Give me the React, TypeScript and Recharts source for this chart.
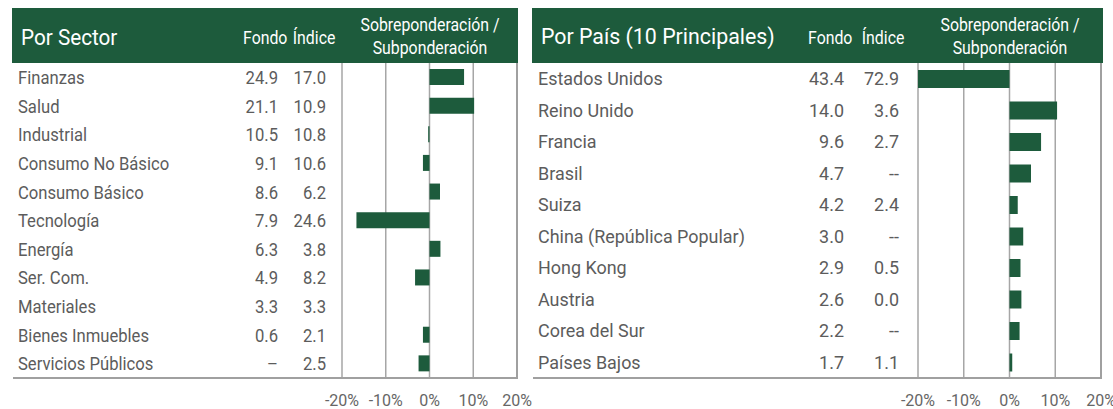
import React from 'react'
import { BarChart, Bar, XAxis, YAxis, CartesianGrid } from 'recharts'

const GREEN = '#1d5b3c'
const TEXT = '#5c5c5c'
const GRID = '#a6a6a6'

const sectorNames = [
  'Finanzas', 'Salud', 'Industrial', 'Consumo No Básico', 'Consumo Básico', 'Tecnología',
  'Energía', 'Ser. Com.', 'Materiales', 'Bienes Inmuebles', 'Servicios Públicos',
]
const sectorFund = ['24.9', '21.1', '10.5', '9.1', '8.6', '7.9', '6.3', '4.9', '3.3', '0.6', '–']
const sectorIndex = ['17.0', '10.9', '10.8', '10.6', '6.2', '24.6', '3.8', '8.2', '3.3', '2.1', '2.5']
const sectorActive = [7.9, 10.2, -0.3, -1.5, 2.4, -16.7, 2.5, -3.3, 0.0, -1.5, -2.5]

const countryNames = [
  'Estados Unidos', 'Reino Unido', 'Francia', 'Brasil', 'Suiza', 'China (República Popular)',
  'Hong Kong', 'Austria', 'Corea del Sur', 'Países Bajos',
]
const countryFund = ['43.4', '14.0', '9.6', '4.7', '4.2', '3.0', '2.9', '2.6', '2.2', '1.7']
const countryIndex = ['72.9', '3.6', '2.7', '--', '2.4', '--', '0.5', '0.0', '--', '1.1']
const countryActive = [-29.5, 10.4, 6.9, 4.7, 1.8, 3.0, 2.4, 2.6, 2.2, 0.6]

const axisTicks = [-20, -10, 0, 10, 20]

type Row = { name: string; fund: string; index: string; active: number }

function buildRows(names: string[], fund: string[], index: string[], active: number[]): Row[] {
  return names.map((name, i) => ({ name, fund: fund[i], index: index[i], active: active[i] }))
}

const sectorRows = buildRows(sectorNames, sectorFund, sectorIndex, sectorActive)
const countryRows = buildRows(countryNames, countryFund, countryIndex, countryActive)

// narrow text, the source uses a condensed face we don't have
function SvgText({ x, y, anchor, size, sx, fill, children }: any) {
  return (
    <g transform={`translate(${x},${y}) scale(${sx},1)`}>
      <text x={0} y={0} dy="0.36em" textAnchor={anchor} fontSize={size} fill={fill} fontFamily="Roboto">
        {children}
      </text>
    </g>
  )
}

function HeadText({ x, cy, size, sx, align, children }: any) {
  const origin = align === 'right' ? 'right' : align === 'center' ? 'center' : 'left'
  const pos: any = align === 'right' ? { right: 1113 - x } : align === 'center' ? { left: x - 100, width: 200 } : { left: x }
  return (
    <div
      style={{
        position: 'absolute',
        ...pos,
        top: cy - size * 0.49,
        fontSize: size,
        lineHeight: 1,
        color: '#fff',
        textAlign: align,
        whiteSpace: 'nowrap',
        transform: `scaleX(${sx})`,
        transformOrigin: `${origin} center`,
      }}
    >
      {children}
    </div>
  )
}

interface PanelProps {
  title: string
  rows: Row[]
  left: number
  width: number
  headerLeft: number
  headerRight: number
  titleSize: number
  titleSx: number
  rowSize: number
  rowSx: number
  nameX: number
  fundX: number
  indexX: number
  fundHeadX: number
  indexHeadX: number
  plotLeft: number
  plotRight: number
  barSize: number
}

function Panel(p: PanelProps) {
  const plotTop = 63
  const plotBottom = 378
  const chartHeight = 409

  const RowTick = (props: any) => {
    const { y, payload } = props
    const row = p.rows.find((r) => r.name === payload.value)
    if (!row) return null
    return (
      <g>
        <SvgText x={p.nameX - p.left} y={y} anchor="start" size={p.rowSize} sx={p.rowSx} fill={TEXT}>{row.name}</SvgText>
        <SvgText x={p.fundX - p.left} y={y} anchor="end" size={p.rowSize} sx={p.rowSx} fill={TEXT}>{row.fund}</SvgText>
        <SvgText x={p.indexX - p.left} y={y} anchor="end" size={p.rowSize} sx={p.rowSx} fill={TEXT}>{row.index}</SvgText>
      </g>
    )
  }

  const AxisTick = (props: any) => {
    const { x, payload } = props
    return (
      <text x={x} y={plotBottom + 28} textAnchor="middle" fill="#666" fontSize={16} fontFamily="Roboto">
        {`${payload.value}%`}
      </text>
    )
  }

  const plotCenter = (p.plotLeft + p.plotRight) / 2

  return (
    <>
      <div
        style={{
          position: 'absolute',
          left: p.headerLeft,
          top: 8,
          width: p.headerRight - p.headerLeft,
          height: 55,
          background: GREEN,
        }}
      />
      <HeadText x={p.nameX + 3} cy={37} size={p.titleSize} sx={p.titleSx} align="left">{p.title}</HeadText>
      <HeadText x={p.fundHeadX} cy={38} size={18} sx={0.88} align="right">Fondo</HeadText>
      <HeadText x={p.indexHeadX} cy={38} size={18} sx={0.88} align="right">Índice</HeadText>
      <HeadText x={plotCenter} cy={25} size={18} sx={0.88} align="center">Sobreponderación /</HeadText>
      <HeadText x={plotCenter} cy={48} size={18} sx={0.88} align="center">Subponderación</HeadText>
      <div style={{ position: 'absolute', left: p.left }}>
        <BarChart
          width={p.width}
          height={chartHeight}
          data={p.rows}
          layout="vertical"
          margin={{ top: plotTop, right: p.left + p.width - p.plotRight, bottom: 0, left: 0 }}
        >
          <CartesianGrid horizontal={false} stroke={GRID} strokeWidth={1.5} />
          <XAxis
            type="number"
            domain={[-20, 20]}
            ticks={axisTicks}
            allowDataOverflow
            axisLine={false}
            tickLine={false}
            height={chartHeight - plotBottom}
            tick={<AxisTick />}
            interval={0}
          />
          <YAxis
            type="category"
            dataKey="name"
            width={p.plotLeft - p.left}
            axisLine={false}
            tickLine={false}
            interval={0}
            tick={<RowTick />}
          />
          <Bar dataKey="active" fill={GREEN} barSize={p.barSize} isAnimationActive={false} />
        </BarChart>
      </div>
      <div
        style={{
          position: 'absolute',
          left: p.headerLeft + 1,
          top: plotBottom - 1,
          width: p.plotRight - p.headerLeft,
          height: 2,
          background: '#a0a0a0',
        }}
      />
      <div
        style={{
          position: 'absolute',
          left: p.plotRight - 1,
          top: plotTop,
          width: 2,
          height: plotBottom - plotTop,
          background: '#a0a0a0',
        }}
      />
    </>
  )
}

export default function App() {
  return (
    <div
      style={{
        position: 'absolute',
        left: 0,
        top: 0,
        width: 1113,
        height: 409,
        background: '#fff',
        fontFamily: 'Roboto',
        overflow: 'hidden',
      }}
    >
      <Panel
        title="Por Sector"
        rows={sectorRows}
        left={0}
        width={545}
        headerLeft={12}
        headerRight={518}
        titleSize={22.5}
        titleSx={0.92}
        rowSize={18.5}
        rowSx={0.9}
        nameX={18}
        fundX={278}
        indexX={326}
        fundHeadX={287}
        indexHeadX={335}
        plotLeft={342}
        plotRight={517}
        barSize={16}
      />
      <Panel
        title="Por País (10 Principales)"
        rows={countryRows}
        left={530}
        width={583}
        headerLeft={532}
        headerRight={1103}
        titleSize={22}
        titleSx={0.97}
        rowSize={18.5}
        rowSx={0.97}
        nameX={538}
        fundX={844}
        indexX={899}
        fundHeadX={852}
        indexHeadX={904}
        plotLeft={918}
        plotRight={1101}
        barSize={18}
      />
    </div>
  )
}
